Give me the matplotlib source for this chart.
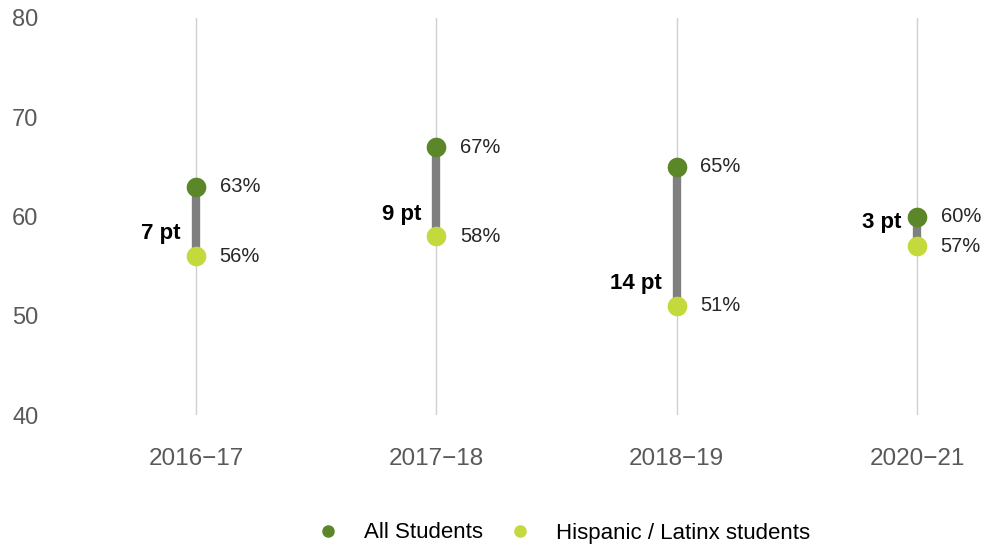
import matplotlib.pyplot as plt
from matplotlib.lines import Line2D

plt.rcParams["font.family"] = ["Liberation Sans", "DejaVu Sans"]

# school years and percentages
years = ["2016\u221217", "2017\u221218", "2018\u221219", "2020\u221221"]
all_students = [63, 67, 65, 60]
hispanic_latinx = [56, 58, 51, 57]
gap_labels = ["7 pt", "9 pt", "14 pt", "3 pt"]

# where each gap label sits on the y axis
gap_label_y = [58.3, 60.2, 53.2, 59.4]

dark_green = "#5b8728"
light_green = "#c3d93c"
bar_gray = "#7f7f7f"
text_gray = "#595959"

fig = plt.figure(figsize=(9.84, 5.46), dpi=100)
ax = fig.add_axes([60 / 984, 1 - 415 / 546, 920 / 984, 397 / 546])

x = list(range(len(years)))

for i in x:
    ax.axvline(i, color="#d0d0d0", linewidth=1, zorder=0)
    ax.plot([i, i], [hispanic_latinx[i], all_students[i]],
            color=bar_gray, linewidth=6, solid_capstyle="butt", zorder=1)

ax.scatter(x, all_students, s=200, color=dark_green, zorder=3, linewidths=0)
ax.scatter(x, hispanic_latinx, s=200, color=light_green, zorder=3, linewidths=0)

for i in x:
    ax.annotate(f"{all_students[i]}%", (i, all_students[i]), xytext=(17, 0),
                textcoords="offset points", ha="left", va="center",
                fontsize=14.5, color="#262626")
    ax.annotate(f"{hispanic_latinx[i]}%", (i, hispanic_latinx[i]), xytext=(17, 0),
                textcoords="offset points", ha="left", va="center",
                fontsize=14.5, color="#262626")
    ax.annotate(gap_labels[i], (i, gap_label_y[i]), xytext=(-11, 0),
                textcoords="offset points", ha="right", va="center",
                fontsize=16, fontweight="bold", color="black")

ax.set_xlim(-136 / 240.33, 3 + 63 / 240.33)
ax.set_ylim(40, 80)
ax.set_yticks([40, 50, 60, 70, 80])
ax.set_xticks(x)
ax.set_xticklabels(years)
ax.tick_params(axis="y", length=0, pad=15.5, labelsize=17, labelcolor=text_gray)
ax.tick_params(axis="x", length=0, pad=24, labelsize=17.5, labelcolor=text_gray)
for s in ax.spines.values():
    s.set_visible(False)

handles = [
    Line2D([], [], marker="o", linestyle="", markersize=8, color=dark_green,
           label="All Students"),
    Line2D([], [], marker="o", linestyle="", markersize=8, color=light_green,
           label="Hispanic / Latinx students"),
]
fig.legend(handles=handles, loc="center", bbox_to_anchor=(0.567, 1 - 533 / 546),
           ncol=2, frameon=False, fontsize=16, handletextpad=0.62,
           columnspacing=0.65)

fig.savefig("out.png", dpi=100)
